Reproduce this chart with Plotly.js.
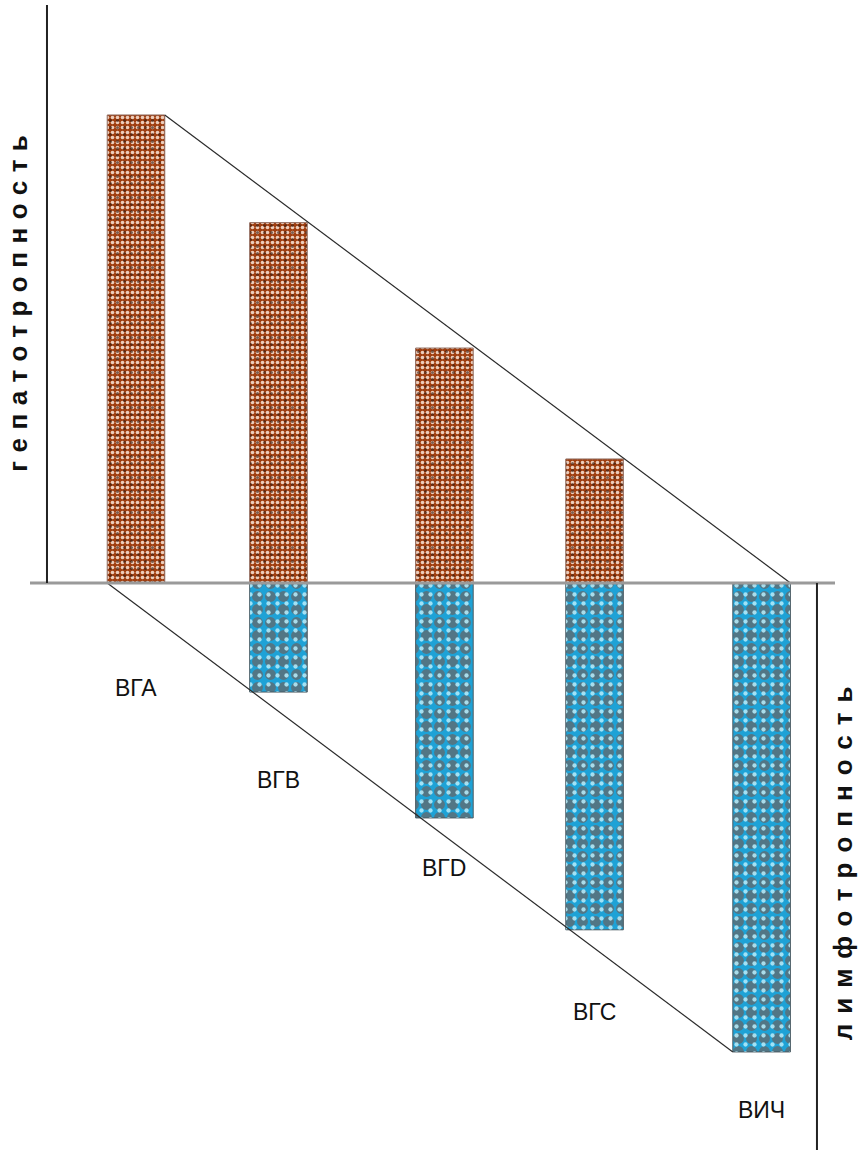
<!DOCTYPE html>
<html>
<head>
<meta charset="utf-8">
<script src="https://cdn.plot.ly/plotly-3.0.1.min.js"></script>
<style>html,body{margin:0;padding:0;background:#fff;}#chart{width:858px;height:1155px;}</style>
</head>
<body>
<div id="chart"></div>
<script>
// ---- data ----
const categories = ['ВГА', 'ВГВ', 'ВГD', 'ВГС', 'ВИЧ'];
const xPos = [0, 0.911, 1.972, 2.932, 4.0];             // category positions along the axis
const hepatotropism = [100, 77, 50.2, 26.5, 0];         // upward (brown) bars
const lymphotropism = [0, -23.3, -50.2, -74.1, -100.2]; // downward (blue) bars
const leftTitle = 'гепатотропность';
const rightTitle = 'лимфотропность';

// ---- layout / styling ----
const barW = 0.368;
const labelY = [-22.4, -42.1, -60.9, -91.7, -112.6];
const n = categories.length;

const traces = [
  { type: 'bar', x: xPos, y: hepatotropism, width: barW, hoverinfo: 'skip',
    marker: { color: '#a03e10', line: { color: '#8e6a5e', width: 1 },
      pattern: { shape: '.', bgcolor: '#a03e10', fgcolor: '#eccdbb', size: 5, solidity: 0.42 } } },
  { type: 'bar', x: xPos, y: hepatotropism, width: barW, hoverinfo: 'skip',
    marker: { color: 'rgba(0,0,0,0)', line: { width: 0 },
      pattern: { shape: '.', bgcolor: 'rgba(0,0,0,0)', fgcolor: 'rgba(50,24,14,0.6)', size: 7, solidity: 0.15 } } },
  { type: 'bar', x: xPos, y: lymphotropism, width: barW, hoverinfo: 'skip',
    marker: { color: '#1ea2d6', line: { color: '#4a5a62', width: 1 },
      pattern: { shape: '.', bgcolor: '#1ea2d6', fgcolor: '#527685', size: 13, solidity: 0.55 } } },
  { type: 'bar', x: xPos, y: lymphotropism, width: barW, hoverinfo: 'skip',
    marker: { color: 'rgba(0,0,0,0)', line: { width: 0 },
      pattern: { shape: '.', bgcolor: 'rgba(0,0,0,0)', fgcolor: 'rgba(185,238,252,0.85)', size: 9, solidity: 0.18 } } },
  { type: 'scatter', mode: 'lines', hoverinfo: 'skip',
    x: [xPos[0] + barW / 2, xPos[n - 1] + barW / 2],
    y: [hepatotropism[0], hepatotropism[n - 1]],
    line: { color: '#2b2b2b', width: 1.2 } },
  { type: 'scatter', mode: 'lines', hoverinfo: 'skip',
    x: [xPos[0] - barW / 2, xPos[n - 1] - barW / 2],
    y: [lymphotropism[0], lymphotropism[n - 1]],
    line: { color: '#2b2b2b', width: 1.2 } }
];

const annotations = categories.map((c, i) => ({
  x: xPos[i], y: labelY[i], xref: 'x', yref: 'y', text: c, showarrow: false,
  font: { family: 'Liberation Sans, Arial, sans-serif', size: 23, color: '#111' },
  xanchor: 'center', yanchor: 'middle'
}));
annotations.push({
  x: -0.0149, y: 60.5, xref: 'paper', yref: 'y', textangle: -90, showarrow: false,
  text: '<b><span style="letter-spacing:8.5px">' + leftTitle + '</span></b>',
  font: { family: 'Liberation Sans, Arial, sans-serif', size: 26, color: '#111' },
  xanchor: 'center', yanchor: 'middle'
});
annotations.push({
  x: 1.01, y: -58.8, xref: 'paper', yref: 'y', textangle: -90, showarrow: false,
  text: '<b><span style="letter-spacing:10px">' + rightTitle + '</span></b>',
  font: { family: 'Liberation Sans, Arial, sans-serif', size: 26, color: '#111' },
  xanchor: 'center', yanchor: 'middle'
});

const layout = {
  width: 858, height: 1155,
  margin: { l: 30, r: 23, t: 5, b: 5 },
  paper_bgcolor: '#fff', plot_bgcolor: '#fff',
  showlegend: false, barmode: 'overlay', bargap: 0,
  xaxis: { range: [-0.6777, 4.4693], visible: false, fixedrange: true },
  yaxis: { range: [-121.15, 123.5], visible: false, fixedrange: true },
  shapes: [
    { type: 'line', xref: 'paper', yref: 'y', x0: 0, x1: 1, y0: 0, y1: 0,
      line: { color: '#9a9a9a', width: 3 } },
    { type: 'line', xref: 'paper', yref: 'y', x0: 0.0211, x1: 0.0211, y0: 0, y1: 123.5,
      line: { color: '#222', width: 2 } },
    { type: 'line', xref: 'paper', yref: 'y', x0: 0.9776, x1: 0.9776, y0: 0, y1: -121.15,
      line: { color: '#222', width: 2 } }
  ],
  annotations: annotations
};

Plotly.newPlot('chart', traces, layout, { staticPlot: true, displayModeBar: false });
</script>
</body>
</html>
